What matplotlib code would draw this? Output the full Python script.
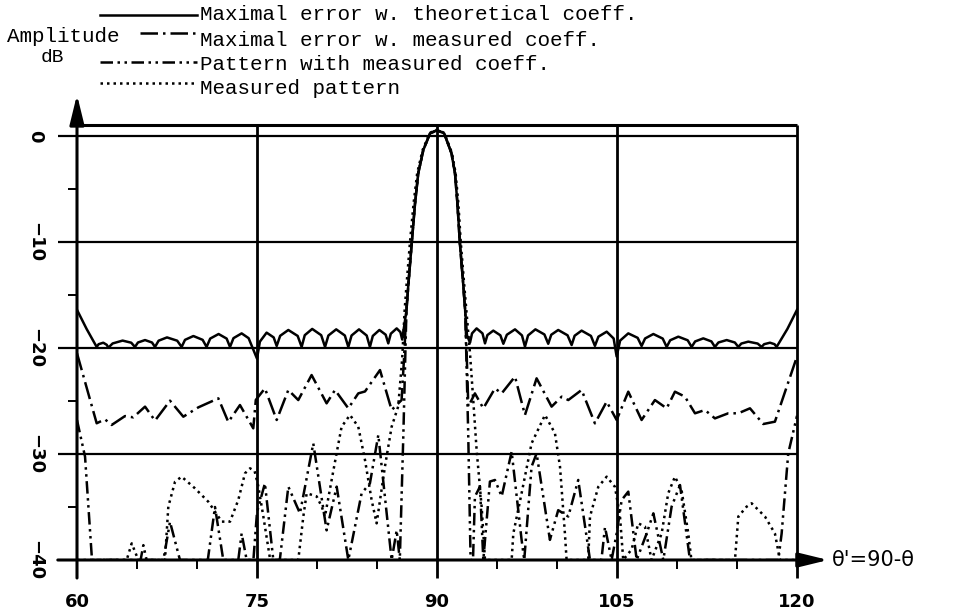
import matplotlib
matplotlib.use('Agg')
import matplotlib.pyplot as plt
from matplotlib.lines import Line2D

W, H = 965, 613

# main beam shared by the computed curves, and the measured one
beam = [(87.45, -16.5), (87.6, -14.2), (87.9, -10.0), (88.17, -6.35), (88.44, -3.5),
        (88.86, -1.32), (89.42, 0.25), (90.0, 0.55), (90.6, 0.25), (91.2, -1.6),
        (91.5, -3.5), (91.7, -6.35), (91.9, -10.0), (92.2, -14.2), (92.35, -16.5)]
beam_meas = [(87.3, -16.5), (87.45, -14.2), (87.75, -10.0), (88.05, -6.35), (88.35, -3.5),
             (88.8, -1.32), (89.4, 0.3), (90.0, 0.6), (90.6, 0.3), (91.25, -1.6),
             (91.55, -3.5), (91.78, -6.35), (91.98, -10.0), (92.28, -14.2), (92.45, -16.5)]

# maximal error w. theoretical coeff.
s1_left = [(60.0, -16.4), (60.8, -18.2), (61.64, -19.9), (61.8, -19.64), (62.19, -19.5),
           (62.48, -19.7), (62.61, -19.97), (62.97, -19.57), (63.8, -19.3), (64.52, -19.5),
           (64.83, -19.9), (65.08, -19.48), (65.67, -19.25), (66.25, -19.48), (66.5, -19.9),
           (66.8, -19.31), (67.5, -19.0), (68.35, -19.31), (68.72, -19.9), (69.0, -19.23),
           (69.7, -18.87), (70.47, -19.23), (70.8, -19.9), (71.1, -19.11), (71.8, -18.68),
           (72.47, -19.11), (72.75, -19.9), (73.04, -19.07), (73.72, -18.62), (74.3, -19.07),
           (74.6, -19.9), (75.0, -21.0), (75.24, -19.4), (75.8, -18.55), (76.39, -19.0),
           (76.64, -19.81), (76.93, -18.85), (77.61, -18.3), (78.39, -18.86), (78.72, -19.9),
           (78.98, -18.79), (79.6, -18.2), (80.35, -18.79), (80.67, -19.9), (80.95, -18.82),
           (81.6, -18.24), (82.32, -18.82), (82.61, -19.9), (82.88, -18.82), (83.5, -18.24),
           (84.14, -18.82), (84.41, -19.9), (84.65, -18.86), (85.2, -18.3), (85.72, -18.74),
           (85.94, -19.56), (86.15, -18.65), (86.64, -18.15), (86.95, -18.5), (87.1, -19.2)]
s1_right = [(92.5, -18.8), (92.75, -19.5), (92.92, -18.62), (93.3, -18.15), (93.79, -18.62),
            (94.0, -19.56), (94.2, -18.78), (94.69, -18.36), (95.28, -18.8), (95.53, -19.6),
            (95.82, -18.75), (96.5, -18.24), (97.08, -18.81), (97.33, -19.87), (97.59, -18.81),
            (98.2, -18.24), (98.95, -18.72), (99.27, -19.6), (99.52, -18.75), (100.1, -18.3),
            (100.88, -18.8), (101.22, -19.72), (101.47, -18.84), (102.05, -18.36), (102.83, -18.86),
            (103.16, -19.8), (103.45, -18.93), (104.14, -18.46), (104.72, -19.1), (104.97, -20.8),
            (105.26, -19.3), (105.94, -18.62), (106.72, -19.04), (107.05, -19.81), (107.34, -19.1),
            (108.03, -18.68), (108.81, -19.11), (109.14, -19.9), (109.43, -19.27), (110.11, -18.93),
            (110.89, -19.27), (111.22, -19.9), (111.51, -19.38), (112.19, -19.09), (112.87, -19.38),
            (113.16, -19.9), (113.45, -19.48), (114.14, -19.25), (114.82, -19.48), (115.11, -19.9),
            (115.36, -19.58), (115.94, -19.4), (116.72, -19.58), (117.05, -19.9), (117.26, -19.64),
            (117.75, -19.5), (118.13, -19.64), (118.3, -19.9), (119.2, -18.2), (120.0, -16.4)]

# maximal error w. measured coeff.
s2_left = [(60.0, -20.5), (61.64, -27.1), (62.33, -26.73), (62.89, -27.26), (64.0, -26.42),
           (64.69, -26.54), (65.67, -25.53), (66.5, -26.85), (67.75, -24.97), (68.86, -26.48),
           (70.11, -25.6), (71.78, -24.75), (72.61, -26.98), (73.58, -25.38), (74.69, -27.58),
           (74.9, -24.9), (75.66, -23.81), (76.64, -26.79), (77.61, -23.96), (78.44, -24.91),
           (79.55, -22.55), (80.8, -25.22), (81.5, -23.96), (82.61, -25.69), (83.44, -24.28),
           (84.0, -24.1), (85.25, -22.08), (86.22, -25.85), (87.05, -24.91), (87.25, -21.0)]
s2_right = [(92.5, -21.5), (92.61, -25.53), (93.16, -24.28), (93.86, -25.69), (94.83, -23.81),
            (95.39, -24.28), (96.5, -22.7), (97.33, -26.32), (98.3, -22.86), (99.55, -25.53),
            (100.39, -24.59), (100.94, -24.91), (102.05, -23.96), (103.16, -27.11), (104.14, -25.06),
            (104.97, -26.79), (105.94, -24.12), (107.05, -26.79), (108.16, -24.91), (109.14, -25.69),
            (109.83, -24.12), (110.66, -24.59), (111.5, -26.16), (112.33, -25.85), (113.16, -26.64),
            (114.27, -26.16), (115.11, -26.16), (116.08, -25.69), (117.19, -27.17), (118.16, -26.95),
            (120.0, -20.8)]

# pattern with measured coeff.
s3_left = [(60.0, -26.8), (60.67, -30.25), (61.25, -40), (65.3, -40), (65.53, -38.6),
           (65.8, -40), (67.2, -40), (67.75, -36.4), (68.58, -40), (70.9, -40), (71.5, -35.0),
           (72.19, -40), (73.44, -40), (73.72, -37.5), (74.14, -40), (74.7, -40), (75.0, -35.5),
           (75.66, -32.77), (76.36, -40), (76.9, -40), (77.61, -33.08), (78.58, -35.6),
           (79.69, -29.0), (80.8, -37.2), (81.64, -33.08), (82.61, -40), (83.72, -33.7),
           (84.41, -32.77), (85.11, -28.2), (86.22, -40), (86.64, -37.2), (86.9, -40),
           (87.2, -28.0)]
s3_right = [(92.6, -28.0), (92.8, -40), (93.0, -40), (93.16, -34.02), (93.58, -33.08),
            (93.86, -40), (94.41, -32.6), (94.83, -32.45), (95.39, -34.0), (96.22, -29.78),
            (97.05, -38.1), (97.27, -40), (97.88, -31.2), (98.3, -29.94), (99.41, -38.1),
            (100.1, -35.3), (100.94, -35.9), (101.77, -32.45), (102.75, -40), (103.7, -40),
            (104.0, -36.9), (104.55, -40), (104.97, -37.5), (105.39, -34.34), (105.94, -33.55),
            (106.64, -40), (107.47, -37.5), (108.03, -35.6), (108.86, -40), (109.55, -34.97),
            (110.25, -32.93), (111.08, -40), (118.44, -40), (118.72, -37.5), (119.27, -29.94),
            (120.0, -26.4)]

# measured pattern
s4_left = [(60.0, -40), (64.14, -40), (64.56, -38.43), (65.11, -40), (67.33, -40),
           (67.61, -34.97), (68.17, -32.61), (68.72, -32.14), (69.83, -33.24), (70.94, -34.5),
           (72.06, -36.38), (72.75, -36.38), (73.44, -34.34), (74.0, -31.82), (74.42, -31.35),
           (74.8, -31.6), (75.1, -33.0), (75.53, -35.9), (76.1, -40), (78.44, -40),
           (78.86, -35.9), (79.14, -33.7), (79.97, -34.0), (80.4, -34.97), (80.66, -35.9),
           (81.22, -32.45), (81.63, -29.94), (82.05, -27.43), (82.75, -26.32), (83.44, -27.43),
           (84.0, -30.57), (84.55, -34.34), (84.97, -36.54), (85.66, -31.2), (86.22, -27.43),
           (86.77, -25.5), (87.1, -21.0)]
s4_right = [(92.75, -20.5), (93.02, -24.9), (93.3, -29.6), (93.72, -34.97), (94.0, -40),
            (96.22, -40), (96.36, -37.5), (97.05, -33.7), (97.88, -29.0), (99.0, -26.32),
            (99.83, -28.05), (100.25, -31.2), (100.66, -37.5), (100.8, -40), (102.6, -40),
            (102.75, -35.9), (103.44, -33.1), (104.14, -32.14), (104.83, -33.1), (105.25, -35.9),
            (105.52, -40), (106.22, -39.0), (106.77, -36.54), (107.33, -36.85), (107.88, -40),
            (108.72, -37.5), (109.27, -33.7), (109.83, -32.14), (110.38, -33.4), (110.94, -37.5),
            (111.2, -40), (114.83, -40), (115.11, -35.9), (115.8, -34.97), (116.22, -34.65),
            (117.33, -35.9), (118.16, -37.5), (118.58, -40), (120.0, -40)]

labels = ["Maximal error w. theoretical coeff.", "Maximal error w. measured coeff.",
          "Pattern with measured coeff.", "Measured pattern"]
x_ticks = [60, 75, 90, 105, 120]
x_minor = [65, 70, 80, 85, 95, 100, 110, 115]
y_ticks = [0, -10, -20, -30, -40]
y_minor = [-5, -15, -25, -35]

styles = ['-', (0, (7, 2, 1, 2)), (0, (5, 1.8, 1, 1.8, 1, 1.8)), (0, (1, 1.6))]


def px(x):
    return x / W


def py(y):
    return 1 - y / H


fig = plt.figure(figsize=(9.65, 6.13), dpi=100)
ax = fig.add_axes([px(77), py(560), 720 / W, 435 / H])
ax.set_xlim(60, 120)
ax.set_ylim(-40, 1.04)
for s in ax.spines.values():
    s.set_visible(False)

series = [s1_left + beam + s1_right,
          s2_left + beam + s2_right,
          s3_left + beam + s3_right,
          s4_left + beam_meas + s4_right]
for pts, ls in zip(series, styles):
    xs = [p[0] for p in pts]
    ys = [p[1] for p in pts]
    ax.plot(xs, ys, color='black', lw=1.8, linestyle=ls, zorder=3)

k = dict(color='black', clip_on=False, solid_capstyle='butt')
# frame and grid
ax.plot([60, 120], [1.04, 1.04], lw=2.2, **k)
for y in y_ticks[:-1]:
    ax.plot([58.4, 120], [y, y], lw=1.6, **k)
for x in x_ticks[1:]:
    ax.plot([x, x], [1.04, -41.7], lw=2.0, **k)
for y in y_minor:
    ax.plot([59.25, 60], [y, y], lw=1.4, **k)
for x in x_minor:
    ax.plot([x, x], [-40, -40.85], lw=1.4, **k)

arrow = dict(arrowstyle='-|>,head_length=0.9,head_width=0.22', mutation_scale=20,
             color='black', lw=2.2, shrinkA=0, shrinkB=0)
ax.annotate('', xy=(60, 3.9), xytext=(60, -41.7), arrowprops=arrow, annotation_clip=False)
ax.annotate('', xy=(122.6, -40), xytext=(58.4, -40), arrowprops=arrow, annotation_clip=False)

ax.set_xticks(x_ticks)
ax.set_xticklabels([str(v) for v in x_ticks], fontsize=13, fontweight='bold')
ax.set_yticks(y_ticks)
ax.set_yticklabels([str(v).replace('-', '\u2212') for v in y_ticks], fontsize=13,
                   fontweight='bold', rotation=-90, va='center')
ax.tick_params(axis='x', length=0, pad=24)
ax.tick_params(axis='y', length=0, pad=24)

ax.text(122.9, -40, "\u03b8'=90-\u03b8", fontsize=15, va='center', ha='left', clip_on=False)

# axis title and legend
mono = 'Liberation Mono'
fig.text(px(7), py(37), 'Amplitude', family=mono, fontsize=15, va='center', ha='left')
fig.text(px(41), py(57), 'dB', family=mono, fontsize=14, va='center', ha='left')
line_x0 = [100, 140, 100, 100]
line_y = [15, 33, 62, 83]
text_y = [14, 40, 64, 88]
for lab, ls, lx, ly, ty in zip(labels, styles, line_x0, line_y, text_y):
    fig.add_artist(Line2D([px(lx), px(197)], [py(ly), py(ly)], transform=fig.transFigure,
                          color='black', lw=1.8, linestyle=ls))
    fig.text(px(200), py(ty), lab, family=mono, fontsize=15, va='center', ha='left')

fig.savefig('out.png', dpi=100)
